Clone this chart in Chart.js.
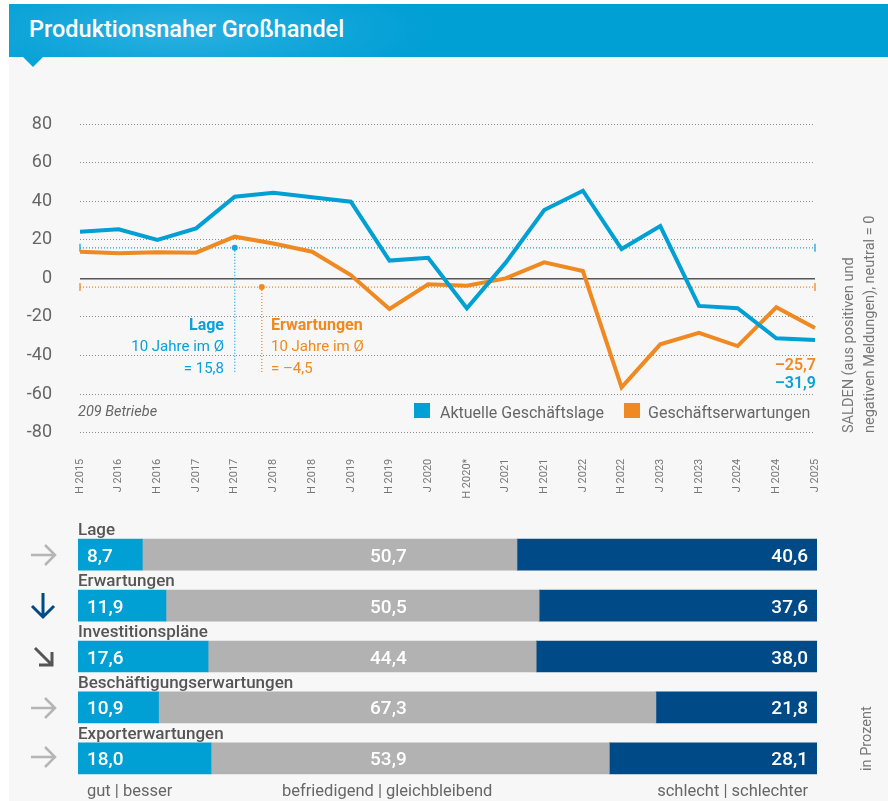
<!DOCTYPE html>
<html lang="de">
<head>
<meta charset="utf-8">
<script src="https://cdn.jsdelivr.net/npm/chart.js@4.4.1/dist/chart.umd.min.js"></script>
<style>
  html, body { margin: 0; padding: 0; background: #fff; }
  body { width: 888px; height: 801px; position: relative; overflow: hidden; font-family: Roboto, "Open Sans", sans-serif; color: #666; }
  .panel { position: absolute; left: 9px; top: 4px; width: 879px; height: 797px; background: #f7f7f7; }
  .header { position: absolute; left: 9px; top: 4px; width: 879px; height: 53px;
    background: radial-gradient(ellipse 260px 60px at 170px 26px, #2bb1e0 0%, #12a6da 55%, #009fd4 100%); }
  .header h1 { margin: 0; position: absolute; left: 20px; top: 14px; font-size: 23.5px; line-height: 1; font-weight: 500; color: #fff; }
  .notch { position: absolute; left: 23px; top: 57px; width: 0; height: 0;
    border-left: 10px solid transparent; border-right: 10px solid transparent; border-top: 10px solid #0aa3d7; }
  .t { position: absolute; white-space: nowrap; line-height: 1; }
  .wrap { position: absolute; left: 0; width: 888px; }
  .vert { position: absolute; writing-mode: vertical-rl; transform: rotate(180deg); white-space: nowrap; color: #777; font-size: 14.5px; line-height: 21px; }
  .blue { color: #0aa0d8; }
  .orange { color: #ef8a22; }
  .row { font-size: 17px; font-weight: 500; color: #555; }
  .foot { font-size: 16.5px; color: #666; }
</style>
</head>
<body>
<div class="panel"></div>
<div class="header"><h1>Produktionsnaher Großhandel</h1></div>
<div class="notch"></div>

<div class="wrap" style="top:100px;height:410px"><canvas id="lineChart"></canvas></div>

<div class="t blue" style="right:664px;top:317px;font-size:16px;font-weight:700;">Lage</div>
<div class="t blue" style="right:664px;top:339px;font-size:15px;">10 Jahre im Ø</div>
<div class="t blue" style="right:664px;top:361px;font-size:15px;">= 15,8</div>
<div class="t orange" style="left:271px;top:317px;font-size:16px;font-weight:700;">Erwartungen</div>
<div class="t orange" style="left:271px;top:339px;font-size:15px;">10 Jahre im Ø</div>
<div class="t orange" style="left:271px;top:361px;font-size:15px;">= –4,5</div>

<div class="t orange" style="right:72px;top:357px;font-size:16px;font-weight:600;">–25,7</div>
<div class="t blue" style="right:72px;top:375px;font-size:16px;font-weight:600;">–31,9</div>

<div class="t" style="left:78px;top:405px;font-size:14.5px;font-style:italic;color:#666;">209 Betriebe</div>
<div class="t" style="left:414px;top:403px;width:16px;height:15px;background:#009fd4;"></div>
<div class="t" style="left:440px;top:405px;font-size:16px;color:#666;">Aktuelle Geschäftslage</div>
<div class="t" style="left:624px;top:403px;width:16px;height:15px;background:#ef8a22;"></div>
<div class="t" style="left:648px;top:405px;font-size:16px;color:#666;">Geschäftserwartungen</div>

<div class="vert" style="left:838px;top:205px;height:228px;width:42px;">SALDEN (aus positiven und<br>negativen Meldungen), neutral = 0</div>

<div class="wrap" style="top:500px;height:300px"><canvas id="barChart"></canvas></div>

<div class="t row" style="left:78px;top:521px;">Lage</div>
<div class="t row" style="left:78px;top:571.5px;">Erwartungen</div>
<div class="t row" style="left:78px;top:622.5px;">Investitionspläne</div>
<div class="t row" style="left:78px;top:673.5px;">Beschäftigungserwartungen</div>
<div class="t row" style="left:78px;top:724.5px;">Exporterwartungen</div>

<div class="t foot" style="left:87px;top:783px;">gut | besser</div>
<div class="t foot" style="left:282px;top:783px;">befriedigend | gleichbleibend</div>
<div class="t foot" style="right:80px;top:783px;">schlecht | schlechter</div>
<div class="vert" style="left:856px;top:702px;height:69px;width:21px;">in Prozent</div>

<svg class="t" style="left:0;top:0" width="888" height="801" fill="none" stroke-linecap="butt" stroke-linejoin="miter">
  <g stroke="#b5b5b5" stroke-width="2.5">
    <path d="M31 555 H55 M45 545 L55 555 L45 565" />
    <path d="M31 708 H55 M45 698 L55 708 L45 718" />
    <path d="M31 757 H55 M45 747 L55 757 L45 767" />
  </g>
  <path d="M43 593 V617 M32 606 L43 617 L54 606" stroke="#004b87" stroke-width="3" />
  <path d="M35 648 L52 665 M52 652 V665 H39" stroke="#555" stroke-width="3" />
</svg>

<script>
const periods = ["H 2015", "J 2016", "H 2016", "J 2017", "H 2017", "J 2018", "H 2018", "J 2019", "H 2019", "J 2020",
  "H 2020*", "J 2021", "H 2021", "J 2022", "H 2022", "J 2023", "H 2023", "J 2024", "H 2024", "J 2025"];
const lage = [24.2, 25.4, 19.9, 25.9, 42.3, 44.4, 42.0, 39.7, 9.2, 10.7, -15.5, 8.0, 35.4, 45.4, 15.2, 27.1, -14.3, -15.5, -31.1, -31.9];
const erwartungen = [13.8, 13.0, 13.5, 13.3, 21.6, 18.1, 13.8, 1.7, -15.9, -3.1, -3.8, 0.0, 8.3, 3.8, -56.5, -34.2, -28.2, -35.1, -15.0, -25.7];
const avgLage = 15.8;
const avgErwartungen = -4.5;

const barCategories = ["Lage", "Erwartungen", "Investitionspläne", "Beschäftigungserwartungen", "Exporterwartungen"];
const gut = [8.7, 11.9, 17.6, 10.9, 18.0];
const befriedigend = [50.7, 50.5, 44.4, 67.3, 53.9];
const schlecht = [40.6, 37.6, 38.0, 21.8, 28.1];

const BLUE = "#009fd4";
const ORANGE = "#ef8a22";
const DARK = "#004b87";
const GRAY = "#b2b2b2";

const fmt = (v) => v.toFixed(1).replace(".", ",");

// dotted average lines with their markers
const averagePlugin = {
  id: "averages",
  beforeDatasetsDraw(chart) {
    const { ctx, chartArea, scales } = chart;
    const { x, y } = scales;
    const marks = [
      { value: avgLage, color: "#1aa6dc", at: 4 },
      { value: avgErwartungen, color: ORANGE, at: 4.7 },
    ];
    ctx.save();
    marks.forEach((m) => {
      const py = y.getPixelForValue(m.value);
      ctx.strokeStyle = m.color;
      ctx.fillStyle = m.color;
      ctx.lineWidth = 1.3;
      ctx.setLineDash([1, 2]);
      ctx.beginPath();
      ctx.moveTo(chartArea.left, py);
      ctx.lineTo(chartArea.right, py);
      const px = x.getPixelForValue(m.at);
      ctx.moveTo(px, py);
      ctx.lineTo(px, y.getPixelForValue(-49.5));
      ctx.stroke();
      ctx.setLineDash([]);
      ctx.beginPath();
      ctx.moveTo(chartArea.left, py - 4);
      ctx.lineTo(chartArea.left, py + 4);
      ctx.moveTo(chartArea.right, py - 4);
      ctx.lineTo(chartArea.right, py + 4);
      ctx.stroke();
      ctx.beginPath();
      ctx.arc(px, py, 3, 0, Math.PI * 2);
      ctx.fill();
    });
    ctx.restore();
  },
};

new Chart(document.getElementById("lineChart"), {
  type: "line",
  data: {
    labels: periods,
    datasets: [
      { label: "Aktuelle Geschäftslage", data: lage, borderColor: BLUE, borderWidth: 4, pointRadius: 0, tension: 0 },
      { label: "Geschäftserwartungen", data: erwartungen, borderColor: ORANGE, borderWidth: 4, pointRadius: 0, tension: 0 },
    ],
  },
  options: {
    animation: false,
    responsive: true,
    maintainAspectRatio: false,
    events: [],
    layout: { padding: { top: 24, right: 73, left: 0, bottom: 0 } },
    plugins: { legend: { display: false }, tooltip: { enabled: false } },
    scales: {
      x: {
        grid: { display: false },
        border: { display: false },
        ticks: { color: "#777", font: { family: "Roboto", size: 11 }, minRotation: 90, maxRotation: 90, autoSkip: false, padding: 18 },
        afterFit: (s) => { s.height = 77.3; },
      },
      y: {
        min: -80,
        max: 80,
        grid: {
          drawTicks: false,
          color: (c) => (c.tick && c.tick.value === 0 ? "#555" : "#8c8c8c"),
          lineWidth: (c) => (c.tick && c.tick.value === 0 ? 1.5 : 1),
        },
        border: { display: false, dash: (c) => (c.tick && c.tick.value === 0 ? [] : [1, 2]) },
        ticks: { stepSize: 20, color: "#666", font: { family: "Roboto", size: 18 }, padding: 28 },
        afterFit: (s) => {
          s.width = 80;
          s.paddingTop = 10;
          s.paddingBottom = 10;
        },
      },
    },
  },
  plugins: [averagePlugin],
});

// value labels inside the stacked bars
const barLabelPlugin = {
  id: "barLabels",
  afterDatasetsDraw(chart) {
    const { ctx, scales } = chart;
    ctx.save();
    ctx.fillStyle = "#fff";
    ctx.font = "500 19px Roboto";
    chart.data.datasets.forEach((ds, di) => {
      chart.getDatasetMeta(di).data.forEach((bar, i) => {
        const text = fmt(ds.data[i]);
        const ty = bar.y + 7;
        if (di === 0) {
          ctx.textAlign = "left";
          ctx.fillText(text, bar.base + 9, ty);
        } else if (di === 1) {
          ctx.textAlign = "center";
          ctx.fillText(text, scales.x.getPixelForValue(42), ty);
        } else {
          ctx.textAlign = "right";
          ctx.fillText(text, bar.x - 9, ty);
        }
      });
    });
    ctx.restore();
  },
};

new Chart(document.getElementById("barChart"), {
  type: "bar",
  data: {
    labels: barCategories,
    datasets: [
      { label: "gut | besser", data: gut, backgroundColor: BLUE, barThickness: 31 },
      { label: "befriedigend | gleichbleibend", data: befriedigend, backgroundColor: GRAY, barThickness: 31 },
      { label: "schlecht | schlechter", data: schlecht, backgroundColor: DARK, barThickness: 31 },
    ],
  },
  options: {
    indexAxis: "y",
    animation: false,
    responsive: true,
    maintainAspectRatio: false,
    events: [],
    layout: { padding: { top: 29.25, bottom: 16.25, left: 78, right: 71 } },
    plugins: { legend: { display: false }, tooltip: { enabled: false } },
    scales: {
      x: { stacked: true, min: 0, max: 100, display: false },
      y: { stacked: true, display: false },
    },
  },
  plugins: [barLabelPlugin],
});
</script>
</body>
</html>
